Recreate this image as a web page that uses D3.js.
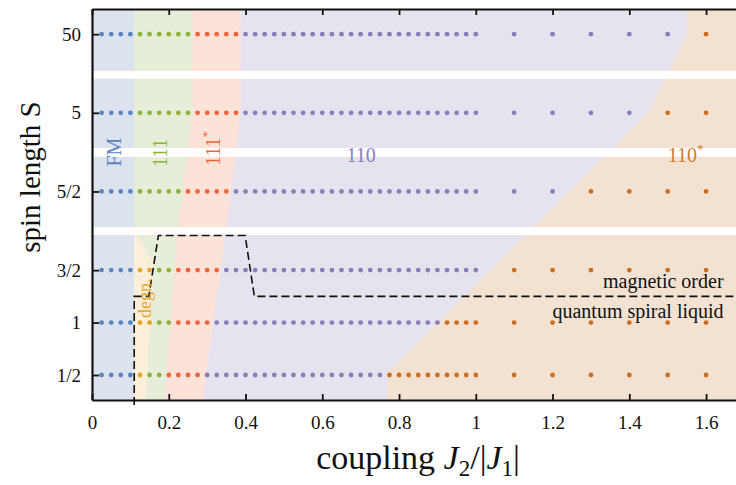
<!DOCTYPE html>
<html>
<head>
<meta charset="utf-8">
<script src="https://cdnjs.cloudflare.com/ajax/libs/d3/7.8.5/d3.min.js"></script>
<style>
body{margin:0;background:#fff;}
text{font-family:"Liberation Serif","Times New Roman",serif;}
</style>
</head>
<body>
<div class="chart"></div>
<script>
// spin lengths, bottom row first, and their slot on the broken y axis
var spins=["1/2","1","3/2","5/2","5","50"];
var spinSlots=[0,1,2,3.5,5,6.5];

// couplings J2/|J1| where a point was computed
var couplings=[0.025,0.05,0.075,0.1,0.125,0.15,0.175,0.2,0.225,0.25,
               0.275,0.3,0.325,0.35,0.375,0.4,0.425,0.45,0.475,0.5,
               0.525,0.55,0.575,0.6,0.625,0.65,0.675,0.7,0.725,0.75,
               0.775,0.8,0.825,0.85,0.875,0.9,0.925,0.95,0.975,1,
               1.1,1.2,1.3,1.4,1.5,1.6];

// phase found along each row, as runs of [phase, number of points]
var phasesHalf=[["FM",4],["degn",1],["111",2],["111*",4],["110",19],["110*",16]];
var phasesOne=[["FM",4],["degn",2],["111",2],["111*",4],["110",24],["110*",10]];
var phasesThreeHalf=[["FM",4],["degn",2],["111",2],["111*",5],["110",27],["110*",6]];
var phasesFiveHalf=[["FM",4],["111",5],["111*",5],["110",28],["110*",4]];
var phasesFive=[["FM",4],["111",6],["111*",5],["110",29],["110*",2]];
var phasesFifty=[["FM",4],["111",6],["111*",5],["110",30],["110*",1]];
var phaseRows=[phasesHalf,phasesOne,phasesThreeHalf,phasesFiveHalf,phasesFive,phasesFifty];

// right-hand border of each phase region, [J2/|J1|, row slot], top to bottom
var borderFM=[[0.110,7.2],[0.110,-0.7]];
var border111=[[0.262,7.2],[0.262,5.0],[0.237,3.5],[0.222,2.67],[0.187,-0.7]];
var border111s=[[0.387,7.2],[0.387,5.0],[0.362,3.5],[0.347,2.67],[0.284,-0.7]];
var border110=[[1.551,7.2],[1.551,6.5],[1.45,5.0],[0.803,0.28],[0.77,0.05],[0.77,-0.7]];
var border110s=[[2,7.2],[2,-0.7]];
// the degenerate pocket at low spin
var degnRegion=[[0.110,2.67],[0.117,2.67],[0.162,2.1],[0.137,-0.7],[0.110,-0.7]];

// white gaps of the broken axis
var axisBreaks=[[2.67,2.82],[4.16,4.33],[5.65,5.80]];

// magnetic order / quantum spiral liquid border
var orderBorder=[[0.110,-0.57],[0.110,1.5],[0.148,1.5],[0.173,2.66],[0.399,2.66],[0.423,1.5],[1.7,1.5]];

var xTicks=[0,0.2,0.4,0.6,0.8,1,1.2,1.4,1.6];
var xTickLabels=["0","0.2","0.4","0.6","0.8","1","1.2","1.4","1.6"];

var areaColor={"FM":"#dde3ee","degn":"#fbefd9","111":"#e6edd8","111*":"#fde2d8","110":"#e6e3ef","110*":"#f3e2d2"};
var dotColor={"FM":"#5a86c0","degn":"#e9a228","111":"#8db43a","111*":"#f0643c","110":"#8a7cbd","110*":"#cd6e1e"};

var margin={top:9, left:92, bottom:85, right:0};
var width=736-margin.left-margin.right;
var height=485-margin.top-margin.bottom;

var svg=d3.select(".chart").append("svg").attr("width",736).attr("height",485);
var g=svg.append("g").attr("transform","translate("+margin.left+","+margin.top+")");

var x=d3.scaleLinear().domain([0,1.678]).range([0,width]);
var y=d3.scaleLinear().domain([-0.477,6.98]).range([height,0]);
var slot=d3.scaleOrdinal().domain(spins).range(spinSlots);

g.append("clipPath").attr("id","plotclip").append("rect").attr("width",width).attr("height",height);
var plot=g.append("g").attr("clip-path","url(#plotclip)");

var line=d3.line().x(d=>x(d[0])).y(d=>y(d[1]));

// region left of a border
function leftOf(border){
    var pts=border.slice();
    pts.push([-1,border[border.length-1][1]],[-1,border[0][1]]);
    return pts;
}

// paint right to left so every region stops at its own border
var regions=[["110*",leftOf(border110s)],["110",leftOf(border110)],["111*",leftOf(border111s)],
             ["111",leftOf(border111)],["degn",degnRegion],["FM",leftOf(borderFM)]];
plot.selectAll("path.region").data(regions).enter().append("path")
    .attr("class","region")
    .attr("d",d=>line(d[1])+"Z")
    .attr("fill",d=>areaColor[d[0]]);

plot.selectAll("rect.break").data(axisBreaks).enter().append("rect")
    .attr("class","break")
    .attr("x",0).attr("width",width)
    .attr("y",d=>y(d[1]))
    .attr("height",d=>y(d[0])-y(d[1]))
    .attr("fill","#fff");

// points
var points=[];
phaseRows.forEach(function(runs,i){
    var k=0;
    runs.forEach(function(r){
        for(var n=0;n<r[1];n++){
            points.push({spin:spins[i], j:couplings[k], phase:r[0]});
            k++;
        }
    });
});
plot.selectAll("circle").data(points).enter().append("circle")
    .attr("cx",d=>x(d.j))
    .attr("cy",d=>y(slot(d.spin)))
    .attr("r",2.4)
    .attr("fill",d=>dotColor[d.phase]);

//dashed border
g.append("path").attr("d",line(orderBorder))
    .attr("fill","none").attr("stroke","#111").attr("stroke-width",1.6)
    .attr("stroke-dasharray","8,4");

// phase labels
function rotLabel(txt,j,s,size,color,star){
    var t=g.append("text")
        .attr("transform","translate("+x(j)+","+y(s)+") rotate(-90)")
        .attr("text-anchor","middle")
        .attr("font-size",size).attr("fill",color).text(txt);
    if(star) t.append("tspan").attr("font-size",size*0.6).attr("dy",-size*0.45).text("*");
}
rotLabel("FM",0.0756,4.25,20,dotColor["FM"],false);
rotLabel("111",0.1954,4.24,20,dotColor["111"],false);
rotLabel("111",0.3336,4.32,20,dotColor["111*"],true);
rotLabel("degn.",0.1525,1.465,18,dotColor["degn"],false);

g.append("text").attr("x",x(0.701)).attr("y",y(4.065))
    .attr("text-anchor","middle").attr("font-size",20).attr("fill",dotColor["110"]).text("110");
var t110s=g.append("text").attr("x",x(1.5003)).attr("y",y(4.065))
    .attr("font-size",20).attr("fill","#cf7a2c").text("110");
t110s.append("tspan").attr("font-size",13).attr("dy",-9).text("*");

g.append("text").attr("x",x(1.6456)).attr("y",y(1.656))
    .attr("text-anchor","end").attr("font-size",20).attr("fill","#111").text("magnetic order");
g.append("text").attr("x",x(1.6456)).attr("y",y(1.083))
    .attr("text-anchor","end").attr("font-size",20).attr("fill","#111").text("quantum spiral liquid");

// axes
var serif="Liberation Serif, Times New Roman, serif";
var xAxisCall=d3.axisBottom(x).tickValues(xTicks).tickFormat((d,i)=>xTickLabels[i])
    .tickSizeInner(-6).tickSizeOuter(0).tickPadding(16);
var xAxisgroup=g.append("g").attr("class","x axis")
    .attr("transform","translate(0,"+height+")").call(xAxisCall)
    .attr("font-family",serif).attr("font-size",19);

var topAxisCall=d3.axisTop(x).tickValues(xTicks).tickFormat("")
    .tickSizeInner(-6).tickSizeOuter(0);
var topAxisgroup=g.append("g").attr("class","top axis").call(topAxisCall);

var yAxisCall=d3.axisLeft(y).tickValues(spinSlots).tickFormat((d,i)=>spins[i])
    .tickSizeInner(-7).tickSizeOuter(0).tickPadding(11);
var yAxisgroup=g.append("g").attr("class","y axis").call(yAxisCall)
    .attr("font-family",serif).attr("font-size",19);

svg.selectAll(".axis .domain").attr("stroke-width",2.2).attr("stroke","#111");
svg.selectAll(".axis .tick line").attr("stroke-width",1.8).attr("stroke","#111");
svg.selectAll(".axis .tick text").attr("fill","#111");

//Y label
svg.append("text").attr("transform","translate(40,177) rotate(-90)")
    .attr("text-anchor","middle").attr("font-size",29).attr("fill","#111")
    .text("spin length S");

//X label
var xLabel=svg.append("text").attr("x",418).attr("y",469)
    .attr("text-anchor","middle").attr("font-size",34).attr("fill","#111");
xLabel.append("tspan").text("coupling ");
xLabel.append("tspan").attr("font-style","italic").text("J");
xLabel.append("tspan").attr("font-size",23).attr("dy",7).text("2");
xLabel.append("tspan").attr("dy",-7).text("/|");
xLabel.append("tspan").attr("font-style","italic").text("J");
xLabel.append("tspan").attr("font-size",23).attr("dy",7).text("1");
xLabel.append("tspan").attr("dy",-7).text("|");
</script>
</body>
</html>
